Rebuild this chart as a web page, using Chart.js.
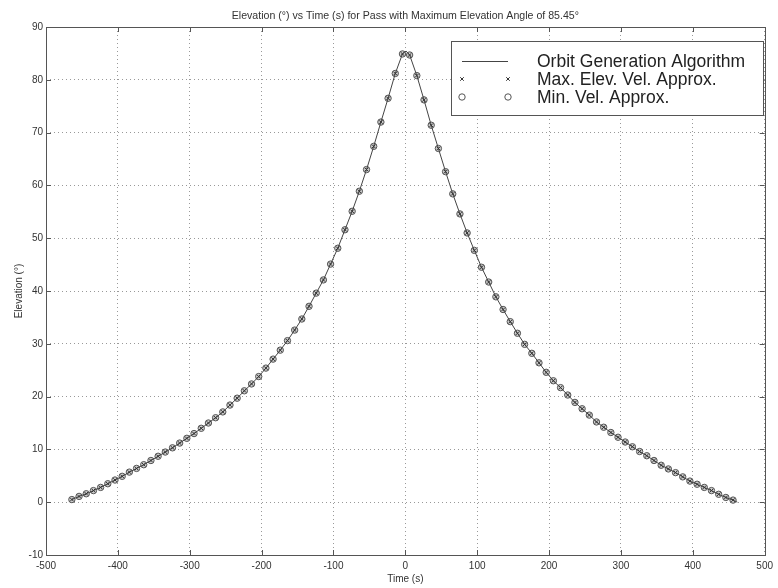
<!DOCTYPE html>
<html>
<head>
<meta charset="utf-8">
<script src="https://cdn.jsdelivr.net/npm/chart.js@4"></script>
<style>
  html, body { margin: 0; padding: 0; background: #fff; }
  #wrap { width: 778px; height: 588px; }
</style>
</head>
<body>
<div id="wrap"><canvas id="elev-chart" width="778" height="588"></canvas></div>
<script>
// sample times (s) and elevations (deg)
const passTimes = [
  -464, -454, -444, -434, -424, -414, -404, -394, -384, -374,
  -364, -354, -344, -334, -324, -314, -304, -294, -284, -274,
  -264, -254, -244, -234, -224, -214, -204, -194, -184, -174,
  -164, -154, -144, -134, -124, -114, -104, -94, -84, -74,
  -64, -54, -44, -34, -24, -14, -4,
  6, 16, 26, 36, 46, 56, 66, 76, 86, 96,
  106, 116, 126, 136, 146, 156, 166, 176, 186, 196,
  206, 216, 226, 236, 246, 256, 266, 276, 286, 296,
  306, 316, 326, 336, 346, 356, 366, 376, 386, 396,
  406, 416, 426, 436, 446, 456
];
const passElevation = [
  0.5, 1.1, 1.6, 2.2, 2.8, 3.5, 4.2, 4.9, 5.7, 6.4,
  7.1, 7.9, 8.7, 9.5, 10.3, 11.2, 12.1, 13.0, 14.0, 15.0,
  16.0, 17.1, 18.4, 19.7, 21.1, 22.4, 23.8, 25.4, 27.1, 28.8,
  30.6, 32.6, 34.7, 37.1, 39.6, 42.1, 45.1, 48.1, 51.6, 55.1,
  58.9, 63.0, 67.4, 72.0, 76.5, 81.2, 84.9,
  84.7, 80.8, 76.2, 71.4, 67.0, 62.6, 58.4, 54.6, 51.0, 47.7,
  44.5, 41.7, 38.9, 36.5, 34.2, 32.0, 29.9, 28.2, 26.4, 24.6,
  23.0, 21.7, 20.3, 18.9, 17.7, 16.5, 15.2, 14.2, 13.2, 12.3,
  11.4, 10.5, 9.6, 8.8, 7.9, 7.0, 6.3, 5.6, 4.8, 4.0,
  3.4, 2.8, 2.2, 1.5, 0.9, 0.4
];
// extra points of the generated orbit curve (peak and set)
const orbitExtraTimes = [1, 462];
const orbitExtraElevation = [85.45, 0.0];

const xTickValues = [-500, -400, -300, -200, -100, 0, 100, 200, 300, 400, 500];
const yTickValues = [-10, 0, 10, 20, 30, 40, 50, 60, 70, 80, 90];

const seriesLabels = ['Orbit Generation Algorithm', 'Max. Elev. Vel. Approx.', 'Min. Vel. Approx.'];

const FONT = "'Liberation Sans', Arial, Helvetica, sans-serif";

const samplePoints = passTimes.map((t, i) => ({ x: t, y: passElevation[i] }));
const orbitPoints = samplePoints
  .concat(orbitExtraTimes.map((t, i) => ({ x: t, y: orbitExtraElevation[i] })))
  .sort((a, b) => a.x - b.x);

// frame round the plot area + inward tick marks (matlab style)
const frameTicks = {
  id: 'frameTicks',
  afterDraw(chart) {
    const { ctx, chartArea: a, scales } = chart;
    const len = 5;
    ctx.save();
    ctx.strokeStyle = '#555';
    ctx.lineWidth = 1;
    ctx.beginPath();
    xTickValues.forEach(v => {
      const px = Math.round(scales.x.getPixelForValue(v)) + 0.5;
      ctx.moveTo(px, a.bottom); ctx.lineTo(px, a.bottom - len);
      ctx.moveTo(px, a.top); ctx.lineTo(px, a.top + len);
    });
    yTickValues.forEach(v => {
      const py = Math.round(scales.y.getPixelForValue(v)) + 0.5;
      ctx.moveTo(a.left, py); ctx.lineTo(a.left + len, py);
      ctx.moveTo(a.right, py); ctx.lineTo(a.right - len, py);
    });
    ctx.stroke();
    ctx.strokeRect(Math.round(a.left) + 0.5, Math.round(a.top) + 0.5,
      Math.round(a.right - a.left), Math.round(a.bottom - a.top));
    ctx.restore();
  }
};

// boxed legend in the upper right corner
const boxLegend = {
  id: 'boxLegend',
  afterDraw(chart) {
    const ctx = chart.ctx;
    const x0 = 451, y0 = 41, w = 312, h = 74;
    const rows = [61, 79, 97];
    const sx1 = 462, sx2 = 508, tx = 537;
    ctx.save();
    ctx.fillStyle = '#fff';
    ctx.fillRect(x0, y0, w, h);
    ctx.strokeStyle = '#555';
    ctx.lineWidth = 1;
    ctx.strokeRect(x0 + 0.5, y0 + 0.5, w, h);

    const ds = chart.data.datasets;
    // line sample
    ctx.strokeStyle = ds[0].borderColor;
    ctx.beginPath();
    ctx.moveTo(sx1, rows[0] + 0.5); ctx.lineTo(sx2, rows[0] + 0.5);
    ctx.stroke();
    // marker samples (open like matlab legend)
    [1, 2].forEach(k => {
      const d = ds[k];
      [sx1, sx2].forEach(px => {
        ctx.strokeStyle = d.borderColor;
        ctx.fillStyle = '#fff';
        ctx.lineWidth = d.borderWidth;
        Chart.helpers.drawPoint(ctx, { pointStyle: d.pointStyle, radius: d.pointRadius, rotation: 0, borderWidth: d.borderWidth }, px, rows[k]);
      });
    });
    ctx.fillStyle = '#222';
    ctx.font = '17.5px ' + FONT;
    ctx.textBaseline = 'middle';
    ctx.textAlign = 'left';
    ds.forEach((d, i) => ctx.fillText(d.label, tx, rows[i] + 1));
    ctx.restore();
  }
};

const ctx = document.getElementById('elev-chart').getContext('2d');
const elevChart = new Chart(ctx, {
  type: 'scatter',
  data: {
    datasets: [
      {
        label: seriesLabels[0],
        data: orbitPoints,
        showLine: true,
        borderColor: '#444',
        borderWidth: 1,
        pointRadius: 0,
        tension: 0,
        order: 2
      },
      {
        label: seriesLabels[1],
        data: samplePoints,
        pointStyle: 'crossRot',
        pointRadius: 2.5,
        borderWidth: 1,
        borderColor: '#333',
        backgroundColor: '#333',
        order: 1
      },
      {
        label: seriesLabels[2],
        data: samplePoints,
        pointStyle: 'circle',
        pointRadius: 3.2,
        borderWidth: 1,
        borderColor: '#555',
        backgroundColor: 'rgba(160,160,160,0.55)',
        order: 3
      }
    ]
  },
  options: {
    responsive: false,
    animation: false,
    layout: { padding: { left: 0, top: 0, right: 9, bottom: 0 } },
    plugins: {
      legend: { display: false },
      tooltip: { enabled: false },
      title: {
        display: true,
        fullSize: false,
        text: 'Elevation (°) vs Time (s) for Pass with Maximum Elevation Angle of 85.45°',
        color: '#333',
        font: { family: FONT, size: 10.6, weight: 'normal' },
        padding: { top: 9.5, bottom: 4.8 }
      }
    },
    scales: {
      x: {
        type: 'linear',
        min: -500,
        max: 500,
        afterBuildTicks: s => { s.ticks = xTickValues.map(v => ({ value: v })); },
        afterFit: s => { s.height = 33; },
        grid: { color: '#999', lineWidth: 1, drawTicks: false },
        border: { display: false, dash: [1, 3] },
        ticks: { color: '#333', padding: 5, font: { family: FONT, size: 10 }, maxRotation: 0 },
        title: {
          display: true,
          text: 'Time (s)',
          color: '#333',
          font: { family: FONT, size: 10 },
          padding: { top: 0, bottom: 3 }
        }
      },
      y: {
        type: 'linear',
        min: -10,
        max: 90,
        afterBuildTicks: s => { s.ticks = yTickValues.map(v => ({ value: v })); },
        afterFit: s => { s.width = 46; },
        grid: { color: '#999', lineWidth: 1, drawTicks: false },
        border: { display: false, dash: [1, 3] },
        ticks: { color: '#333', padding: 3, font: { family: FONT, size: 10 } },
        title: {
          display: true,
          text: 'Elevation (°)',
          color: '#333',
          font: { family: FONT, size: 10 },
          padding: { top: 13, bottom: 0 }
        }
      }
    }
  },
  plugins: [frameTicks, boxLegend]
});
</script>
</body>
</html>
